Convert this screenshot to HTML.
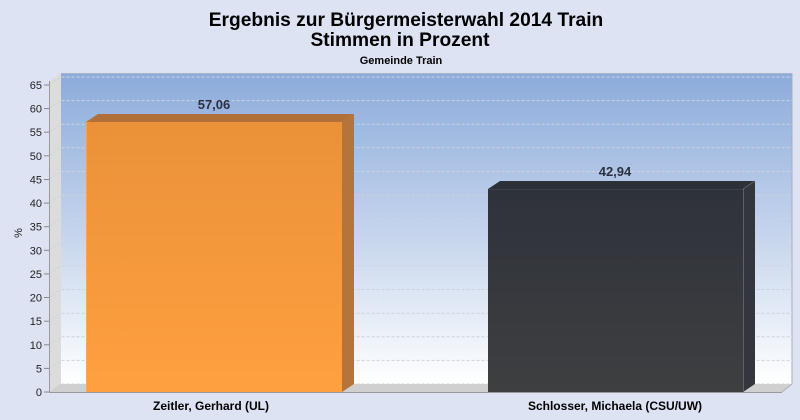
<!DOCTYPE html>
<html><head><meta charset="utf-8"><style>
html,body{margin:0;padding:0;background:#dde3f3;}
svg{display:block;font-family:"Liberation Sans",Arial,sans-serif;}
</style></head><body>
<svg width="800" height="420" viewBox="0 0 800 420" xmlns="http://www.w3.org/2000/svg">
<defs>
<linearGradient id="wall" x1="0" y1="0" x2="0" y2="1">
<stop offset="0" stop-color="#8cabdb"/>
<stop offset="0.5" stop-color="#c3d3ec"/>
<stop offset="1" stop-color="#ffffff"/>
</linearGradient>
<linearGradient id="org" x1="0" y1="0" x2="0" y2="1">
<stop offset="0" stop-color="#ea9139"/>
<stop offset="1" stop-color="#ffa040"/>
</linearGradient>
<linearGradient id="drk" x1="0" y1="0" x2="0" y2="1">
<stop offset="0" stop-color="#2e323a"/>
<stop offset="1" stop-color="#3e3f41"/>
</linearGradient>
</defs>
<rect width="800" height="420" fill="#dde3f3"/>
<text x="406" y="26" text-anchor="middle" font-size="19.2" font-weight="bold" fill="#000">Ergebnis zur Bürgermeisterwahl 2014 Train</text>
<text x="400" y="46" text-anchor="middle" font-size="19.2" font-weight="bold" fill="#000">Stimmen in Prozent</text>
<text x="401" y="64" text-anchor="middle" font-size="11" font-weight="bold" fill="#000">Gemeinde Train</text>
<rect x="61" y="73" width="731" height="311" fill="url(#wall)"/>
<line x1="792" y1="73" x2="792" y2="384" stroke="#a8adb8" stroke-width="1"/>
<line x1="61" y1="73.5" x2="792" y2="73.5" stroke="#a8b4c8" stroke-width="1"/>
<polygon points="49,392 49,81 61,73 61,384" fill="#dcdcdc"/>
<polygon points="49,392 61,384 792,384 782,392" fill="#d0d0d0"/>
<g stroke="#cdd3de" stroke-width="1" stroke-dasharray="3,2" fill="none">
<path d="M49,368.4 L61,360.4 H792"/>
<path d="M49,344.8 L61,336.8 H792"/>
<path d="M49,321.2 L61,313.2 H792"/>
<path d="M49,297.5 L61,289.5 H792"/>
<path d="M49,273.9 L61,265.9 H792"/>
<path d="M49,250.3 L61,242.3 H792"/>
<path d="M49,226.7 L61,218.7 H792"/>
<path d="M49,203.1 L61,195.1 H792"/>
<path d="M49,179.5 L61,171.5 H792"/>
<path d="M49,155.8 L61,147.8 H792"/>
<path d="M49,132.2 L61,124.2 H792"/>
<path d="M49,108.6 L61,100.6 H792"/>
<path d="M49,85 L61,77 H792"/>
<path d="M49,392 L61,384 H792"/>
</g>
<line x1="49.5" y1="81" x2="49.5" y2="392" stroke="#9a9a9a"/>
<line x1="49" y1="392.5" x2="782" y2="392.5" stroke="#9a9a9a"/>
<line x1="782" y1="392" x2="792" y2="384" stroke="#b0b0b0"/>
<g stroke="#888" stroke-width="1">
<line x1="44" y1="392" x2="49" y2="392"/><line x1="44" y1="368.4" x2="49" y2="368.4"/>
<line x1="44" y1="344.8" x2="49" y2="344.8"/><line x1="44" y1="321.2" x2="49" y2="321.2"/>
<line x1="44" y1="297.5" x2="49" y2="297.5"/><line x1="44" y1="273.9" x2="49" y2="273.9"/>
<line x1="44" y1="250.3" x2="49" y2="250.3"/><line x1="44" y1="226.7" x2="49" y2="226.7"/>
<line x1="44" y1="203.1" x2="49" y2="203.1"/><line x1="44" y1="179.5" x2="49" y2="179.5"/>
<line x1="44" y1="155.8" x2="49" y2="155.8"/><line x1="44" y1="132.2" x2="49" y2="132.2"/>
<line x1="44" y1="108.6" x2="49" y2="108.6"/><line x1="44" y1="85" x2="49" y2="85"/>
</g>
<g font-size="11" fill="#222" text-anchor="end">
<text x="42" y="396">0</text><text x="42" y="372.4">5</text>
<text x="42" y="348.8">10</text><text x="42" y="325.2">15</text>
<text x="42" y="301.5">20</text><text x="42" y="277.9">25</text>
<text x="42" y="254.3">30</text><text x="42" y="230.7">35</text>
<text x="42" y="207.1">40</text><text x="42" y="183.5">45</text>
<text x="42" y="159.8">50</text><text x="42" y="136.2">55</text>
<text x="42" y="112.6">60</text><text x="42" y="89">65</text>
</g>
<text x="22" y="233" font-size="11" fill="#222" text-anchor="middle" transform="rotate(-90 22 233)">%</text>
<polygon points="86,122 98,114 354,114 342,122" fill="#b07038"/>
<polygon points="342,122 354,114 354,384 342,392" fill="#b4743a"/>
<rect x="86" y="122" width="256" height="270" fill="url(#org)"/>
<line x1="86.5" y1="122" x2="86.5" y2="392" stroke="#f6b070" stroke-width="1" opacity="0.6"/>
<polygon points="488,189 500,181 755,181 743,189" fill="#2c3037"/>
<polygon points="743,189 755,181 755,384 743,392" fill="#33363c"/>
<rect x="488" y="189" width="255" height="203" fill="url(#drk)"/>
<line x1="743.5" y1="189" x2="743.5" y2="392" stroke="#5c6068"/>
<line x1="743" y1="189" x2="755" y2="181" stroke="#5c6068"/>
<line x1="488" y1="189.5" x2="743" y2="189.5" stroke="#3c4048"/>
<text x="214" y="109" text-anchor="middle" font-size="13" font-weight="bold" fill="#2b3141">57,06</text>
<text x="615" y="176" text-anchor="middle" font-size="13" font-weight="bold" fill="#2b3141">42,94</text>
<text x="211" y="410" text-anchor="middle" font-size="12" font-weight="bold" fill="#000">Zeitler, Gerhard (UL)</text>
<text x="615" y="410" text-anchor="middle" font-size="12" font-weight="bold" fill="#000">Schlosser, Michaela (CSU/UW)</text>
</svg>
</body></html>
